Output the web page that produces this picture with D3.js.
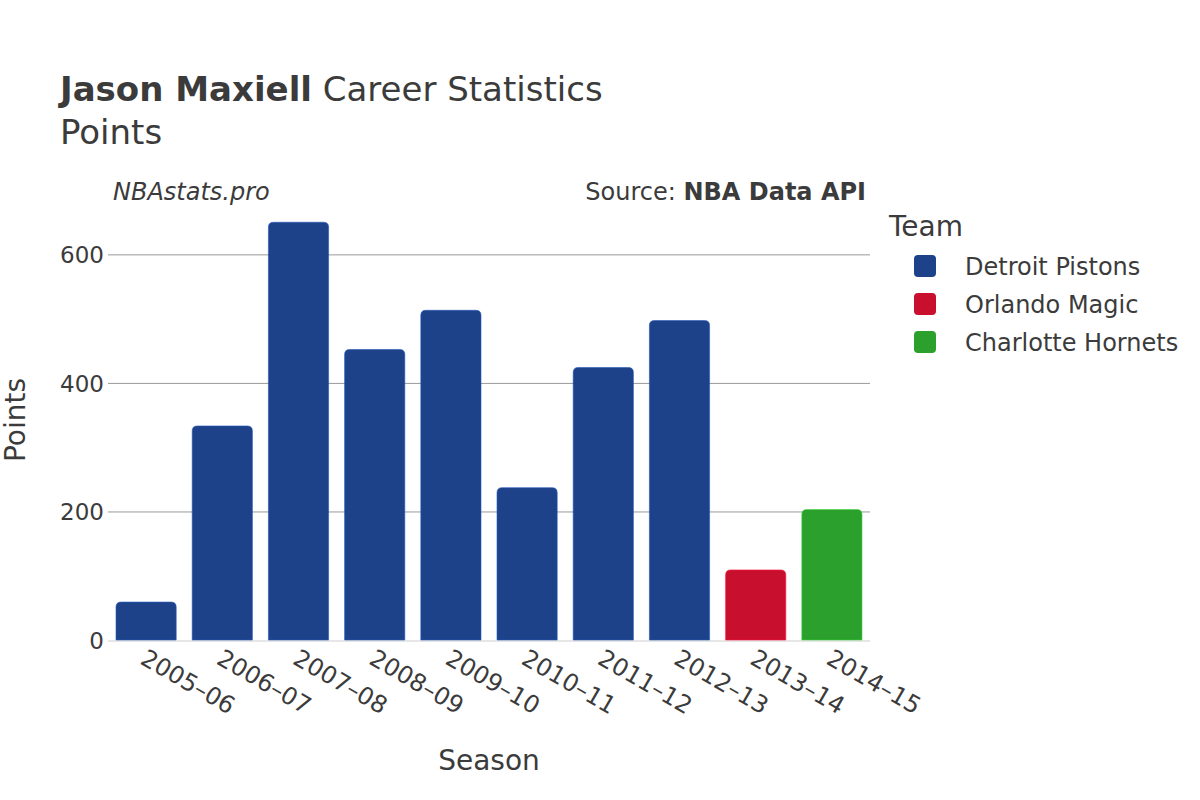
<!DOCTYPE html>
<html>
<head>
<meta charset="utf-8">
<script src="https://cdn.jsdelivr.net/npm/d3@7"></script>
<style>
  body { margin: 0; background: #fff; }
  svg { font-family: 'DejaVu Sans', sans-serif; }
</style>
</head>
<body>
<svg id="chart"></svg>
<script>
const seasons = ['2005–06', '2006–07', '2007–08', '2008–09', '2009–10', '2010–11', '2011–12', '2012–13', '2013–14', '2014–15']
const points = [59, 333, 650, 452, 513, 237, 424, 497, 109, 203]
const teams = ['Detroit Pistons', 'Detroit Pistons', 'Detroit Pistons', 'Detroit Pistons', 'Detroit Pistons', 'Detroit Pistons', 'Detroit Pistons', 'Detroit Pistons', 'Orlando Magic', 'Charlotte Hornets']
const teamNames = ['Detroit Pistons', 'Orlando Magic', 'Charlotte Hornets']
const teamColors = ['#1d428a', '#c8102e', '#2ca02c']
const yTicks = [0, 200, 400, 600]

const width = 1200
const height = 800
const plot = { left: 108, right: 870, top: 200, bottom: 640 }
const textColor = '#3b3b3b'

const data = seasons.map((s, i) => ({ season: s, value: points[i], team: teams[i] }))

const svg = d3.select('#chart')
  .attr('width', width)
  .attr('height', height)

svg.append('rect')
  .attr('width', width)
  .attr('height', height)
  .attr('fill', '#fff')

const x = d3.scaleBand()
  .domain(seasons)
  .range([plot.left, plot.right])
  .paddingInner(0.21)
  .paddingOuter(0.105)

const y = d3.scaleLinear()
  .domain([0, 684.6])
  .range([plot.bottom, plot.top])

const color = d3.scaleOrdinal().domain(teamNames).range(teamColors)

// grid + y labels
const yAxisG = svg.append('g')
  .attr('transform', `translate(${plot.left}, 0)`)
  .call(d3.axisLeft(y).tickValues(yTicks).tickSize(-(plot.right - plot.left)).tickPadding(4))
yAxisG.select('.domain').remove()
yAxisG.selectAll('.tick line')
  .attr('stroke', '#999')
  .attr('stroke-width', 1)
  .attr('display', d => d === 0 ? 'none' : null)
yAxisG.selectAll('.tick text')
  .attr('fill', textColor)
  .attr('font-size', 23)
  .attr('font-family', 'DejaVu Sans, sans-serif')
  .attr('dy', '0.36em')

// zero line
svg.append('line')
  .attr('x1', plot.left)
  .attr('x2', plot.right)
  .attr('y1', y(0) + 1)
  .attr('y2', y(0) + 1)
  .attr('stroke', '#e6e6e6')
  .attr('stroke-width', 2)

// bars with rounded tops
const r = 5
function barPath(d) {
  const x0 = x(d.season)
  const x1 = x0 + x.bandwidth()
  const y0 = y(0)
  const y1 = y(d.value)
  return `M${x0},${y0} L${x0},${y1 + r} Q${x0},${y1} ${x0 + r},${y1} L${x1 - r},${y1} Q${x1},${y1} ${x1},${y1 + r} L${x1},${y0} Z`
}

svg.append('g')
  .selectAll('path')
  .data(data)
  .join('path')
  .attr('d', barPath)
  .attr('fill', d => color(d.team))
  .attr('stroke', d => d3.color(color(d.team)).brighter(0.8))
  .attr('stroke-width', 0.6)

// x tick labels
const xAxisG = svg.append('g')
  .attr('transform', `translate(0, ${y(0)})`)
  .call(d3.axisBottom(x).tickSize(0).tickPadding(0))
xAxisG.select('.domain').remove()
xAxisG.selectAll('.tick text')
  .attr('fill', textColor)
  .attr('font-size', 24)
  .attr('font-family', 'DejaVu Sans, sans-serif')
  .attr('text-anchor', 'start')
  .attr('dy', 0)
  .attr('y', 0)
  .attr('transform', 'translate(-7, 23) rotate(30)')

// axis titles
svg.append('text')
  .attr('x', (plot.left + plot.right) / 2)
  .attr('y', 770)
  .attr('text-anchor', 'middle')
  .attr('font-size', 28)
  .attr('fill', textColor)
  .text('Season')

svg.append('text')
  .attr('transform', `translate(25, ${(plot.top + plot.bottom) / 2}) rotate(-90)`)
  .attr('text-anchor', 'middle')
  .attr('font-size', 28)
  .attr('fill', textColor)
  .text('Points')

// titles
const title = svg.append('text')
  .attr('x', 60)
  .attr('y', 101)
  .attr('font-size', 34)
  .attr('fill', textColor)
title.append('tspan').attr('font-weight', 'bold').text('Jason Maxiell')
title.append('tspan').text(' Career Statistics')

svg.append('text')
  .attr('x', 60)
  .attr('y', 144)
  .attr('font-size', 34)
  .attr('fill', textColor)
  .text('Points')

svg.append('text')
  .attr('x', 113)
  .attr('y', 200)
  .attr('font-size', 24)
  .attr('font-style', 'italic')
  .attr('fill', textColor)
  .text('NBAstats.pro')

const source = svg.append('text')
  .attr('x', 866)
  .attr('y', 200)
  .attr('text-anchor', 'end')
  .attr('font-size', 24)
  .attr('fill', textColor)
source.append('tspan').text('Source: ')
source.append('tspan').attr('font-weight', 'bold').text('NBA Data API')

// legend
svg.append('text')
  .attr('x', 889)
  .attr('y', 236)
  .attr('font-size', 28)
  .attr('fill', textColor)
  .text('Team')

const legendItems = svg.append('g')
  .selectAll('g')
  .data(teamNames)
  .join('g')
  .attr('transform', (d, i) => `translate(0, ${266 + i * 38})`)

legendItems.append('rect')
  .attr('x', 914)
  .attr('y', -11)
  .attr('width', 22)
  .attr('height', 22)
  .attr('rx', 4)
  .attr('fill', d => color(d))

legendItems.append('text')
  .attr('x', 965)
  .attr('y', 1)
  .attr('dy', '0.35em')
  .attr('font-size', 24)
  .attr('fill', textColor)
  .text(d => d)
</script>
</body>
</html>
